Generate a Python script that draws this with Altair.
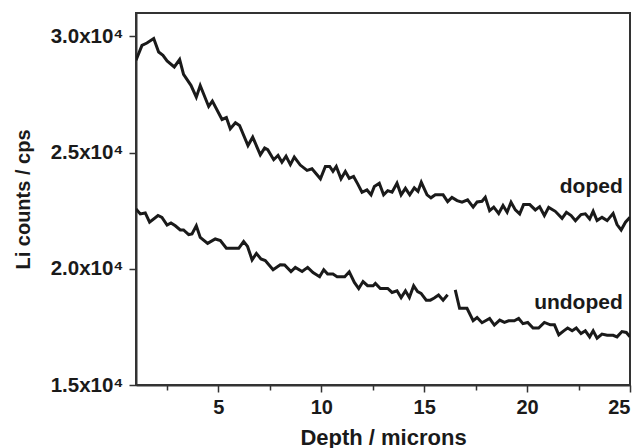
import altair as alt
import pandas as pd

# ---- data ----
doped_x = [1.00, 1.29, 1.53, 1.86, 2.10, 2.31, 2.51, 2.86, 3.12, 3.31, 3.67, 3.93, 4.12, 4.53, 4.71,
           5.18, 5.39, 5.58, 5.83, 6.03, 6.44, 6.67, 7.04, 7.25, 7.40, 7.69, 7.90, 8.09, 8.29, 8.50,
           8.69, 8.98, 9.31, 9.55, 9.96, 10.20, 10.41, 10.57, 10.73, 10.96, 11.17, 11.36, 11.57,
           11.77, 11.98, 12.22, 12.42, 12.58, 12.82, 13.03, 13.23, 13.44, 13.68, 13.88, 14.09,
           14.30, 14.52, 14.70, 14.86, 15.14, 15.33, 15.54, 15.92, 16.14, 16.35, 16.60, 16.84,
           17.11, 17.38, 17.57, 17.81, 17.97, 18.18, 18.38, 18.62, 18.83, 19.03, 19.22, 19.43,
           19.64, 19.83, 20.13, 20.40, 20.61, 20.84, 21.05, 21.37, 21.70, 21.91, 22.14, 22.35,
           22.62, 22.83, 23.04, 23.21, 23.40, 23.64, 23.89, 24.18, 24.37, 24.57, 24.78, 25.00]
doped_y = [28970, 29610, 29710, 29900, 29320, 29180, 28940, 28680, 29000, 28360, 27890, 27380, 27880,
           26980, 27210, 26420, 26500, 26020, 26280, 26160, 25300, 25660, 24900, 25190, 25120, 24690,
           24870, 24580, 24840, 24480, 24800, 24460, 24230, 24300, 23870, 24400, 24400, 24190, 24400,
           23870, 24180, 23890, 23970, 23650, 23290, 23390, 23180, 23540, 23680, 23180, 23360, 23290,
           23680, 23180, 23460, 23180, 23480, 23330, 23720, 23180, 23050, 23180, 23180, 22890, 23070,
           22930, 22860, 22960, 22650, 22870, 22900, 23070, 22500, 22650, 22380, 22720, 22430, 22860,
           22530, 22360, 22760, 22760, 22530, 22670, 22290, 22640, 22470, 22170, 22430, 22290, 22070,
           22330, 22360, 22140, 22470, 22070, 22210, 22070, 22380, 21900, 21670, 22000, 22210]

undoped_a_x = [1.00, 1.21, 1.45, 1.66, 2.07, 2.26, 2.51, 2.70, 2.91, 3.15, 3.31, 3.56, 3.72, 3.93,
               4.12, 4.48, 4.85, 5.10, 5.39, 5.66, 5.99, 6.23, 6.42, 6.64, 6.85, 7.07, 7.28, 7.66,
               8.01, 8.22, 8.53, 8.74, 9.07, 9.34, 9.60, 9.92, 10.12, 10.31, 10.57, 10.77, 11.14,
               11.36, 11.61, 11.82, 12.03, 12.25, 12.52, 12.63, 12.87, 13.23, 13.44, 13.68, 13.88,
               14.09, 14.28, 14.49, 14.68, 14.85, 15.10, 15.30, 15.49, 15.70, 15.92, 16.14]
undoped_a_y = [22570, 22360, 22400, 22000, 22290, 22210, 21880, 21970, 21850, 21670, 21670, 21470,
               21500, 21850, 21350, 21090, 21280, 21210, 20880, 20880, 20880, 21170, 20960, 20380,
               20660, 20420, 20350, 19960, 20170, 20160, 19880, 20060, 19880, 20060, 19840, 19660,
               19960, 19770, 19770, 19660, 19660, 19870, 19410, 19150, 19450, 19270, 19270, 19370,
               19150, 19150, 18980, 19050, 18760, 19050, 18760, 19270, 19020, 18940, 18650, 18650,
               18740, 18870, 18650, 18880]

undoped_b_x = [16.51, 16.72, 17.08, 17.38, 17.57, 17.81, 18.18, 18.41, 18.67, 18.90, 19.10, 19.38,
               19.59, 19.80, 20.03, 20.29, 20.56, 20.84, 21.13, 21.33, 21.54, 21.78, 21.97, 22.19,
               22.39, 22.62, 22.83, 23.04, 23.21, 23.40, 23.64, 23.89, 24.18, 24.37, 24.61, 24.82,
               25.00]
undoped_b_y = [19090, 18300, 18300, 17770, 17900, 17680, 17860, 17580, 17790, 17690, 17760, 17760,
               17860, 17640, 17690, 17450, 17450, 17690, 17590, 17590, 17160, 17330, 17450, 17330,
               17450, 17210, 17330, 17070, 17330, 17010, 17190, 17140, 17140, 17070, 17300, 17260,
               17070]

label_text = ["doped", "undoped"]
label_x = [24.65, 24.65]
label_y = [23530, 18530]

x_tick_values = [2.5, 5, 7.5, 10, 12.5, 15, 17.5, 20, 22.5, 25]
y_tick_values = [15000, 20000, 25000, 30000]

# ---- build tables ----
rows = []
for name, xs, ys in [("doped", doped_x, doped_y),
                     ("undoped_a", undoped_a_x, undoped_a_y),
                     ("undoped_b", undoped_b_x, undoped_b_y)]:
    for xv, yv in zip(xs, ys):
        rows.append({"depth": xv, "counts": yv, "series": name})
df = pd.DataFrame(rows)
labels = pd.DataFrame({"depth": label_x, "counts": label_y, "text": label_text})

FONT = "Liberation Sans"
INK = "#1a1a1a"

x_enc = alt.X(
    "depth:Q",
    scale=alt.Scale(domain=[1, 25], nice=False, zero=False),
    axis=alt.Axis(
        values=x_tick_values,
        labelExpr="datum.value % 5 === 0 ? datum.label : ''",
        title="Depth / microns",
        tickSize={"condition": {"test": "datum.value % 5 === 0", "value": 7}, "value": 5},
        labelPadding=5,
        titleBaseline="alphabetic",
        titleY=59,
        titleFontSize=22,
        grid=False,
    ),
)
y_enc = alt.Y(
    "counts:Q",
    scale=alt.Scale(domain=[15000, 31000], nice=False, zero=False),
    axis=alt.Axis(
        values=y_tick_values,
        labelExpr="format(datum.value / 10000, '.1f') + 'x10⁴'",
        title="Li counts / cps",
        tickSize=7,
        labelPadding=6,
        labelFontSize=20.5,
        titleBaseline="alphabetic",
        titleX=-107,
        titleFontSize=20,
        grid=False,
    ),
)

lines = alt.Chart(df).mark_line(color=INK, strokeWidth=3, clip=True).encode(
    x=x_enc, y=y_enc, detail="series:N", order="depth:Q"
)

texts = alt.Chart(labels).mark_text(
    align="right", baseline="middle", font=FONT, fontSize=21, fontWeight="bold", color=INK
).encode(x="depth:Q", y="counts:Q", text="text:N")

chart = (
    alt.layer(lines, texts)
    .properties(
        width=494,
        height=372,
        autosize=alt.AutoSizeParams(type="none"),
        padding={"left": 136, "top": 13, "right": 13, "bottom": 63},
        background="white",
    )
    .configure_view(stroke="#333333", strokeWidth=2)
    .configure_axis(
        domainColor="#333333",
        domainWidth=2,
        tickColor="#333333",
        tickWidth=1.5,
        labelFont=FONT,
        labelFontSize=20,
        labelFontWeight="bold",
        labelColor=INK,
        titleFont=FONT,
        titleFontWeight="bold",
        titleColor=INK,
    )
)

chart.save("out.html", embed_options={"renderer": "svg", "actions": False})
